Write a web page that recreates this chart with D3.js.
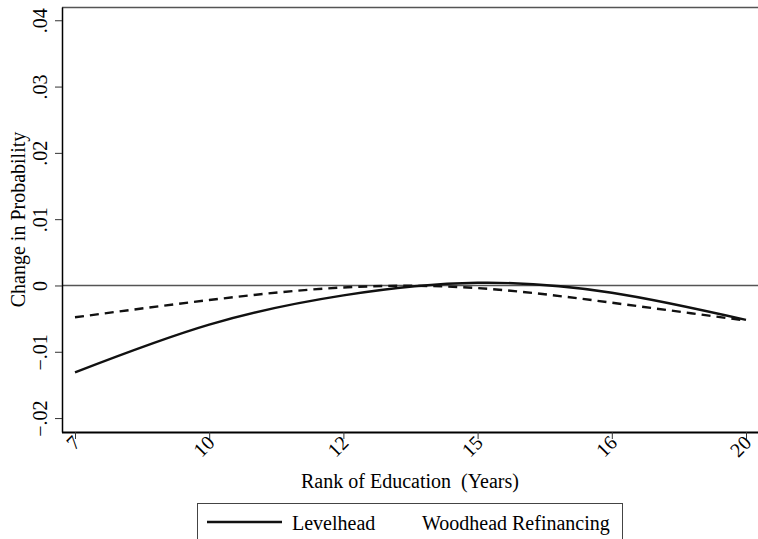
<!DOCTYPE html>
<html>
<head>
<meta charset="utf-8">
<script src="https://cdn.jsdelivr.net/npm/d3@7"></script>
<style>
  body { margin: 0; background: #fff; }
  svg text { font-family: "Liberation Serif", "Times New Roman", serif; white-space: pre; }
</style>
</head>
<body>
<div id="chart"></div>
<script>
// education ranks shown on the x axis
const years = ["7", "10", "12", "15", "16", "20"];
// change in probability
const levelhead = [-0.0131, -0.0059, -0.0015, 0.0004, -0.0011, -0.0052];
const woodhead = [-0.0048, -0.0022, -0.0003, -0.0004, -0.0026, -0.0053];
const yTicks = [-0.02, -0.01, 0, 0.01, 0.02, 0.03, 0.04];

const W = 758, H = 539;
const plotL = 62, plotT = 7, plotB = 432, plotR = 758;
const serif = '"Liberation Serif", "Times New Roman", serif';

const svg = d3.select("#chart").append("svg")
    .attr("width", W)
    .attr("height", H);

const x = d3.scalePoint()
    .domain(years)
    .range([75, 746]);

const y = d3.scaleLinear()
    .domain([-0.0221, 0.042])
    .range([plotB, plotT]);

const fmt = d => d === 0 ? "0" : d3.format(".2f")(d).replace("0.", ".");

// top border and zero line
svg.append("line")
    .attr("x1", plotL).attr("x2", plotR)
    .attr("y1", plotT + 0.5).attr("y2", plotT + 0.5)
    .attr("stroke", "#555").attr("stroke-width", 1.5);
svg.append("line")
    .attr("x1", plotL).attr("x2", plotR)
    .attr("y1", y(0)).attr("y2", y(0))
    .attr("stroke", "#555").attr("stroke-width", 1.5);

// y axis
const ya = svg.append("g")
    .attr("transform", `translate(${plotL},0)`)
    .call(d3.axisLeft(y).tickValues(yTicks).tickFormat(fmt).tickSize(7).tickSizeOuter(0))
    .attr("font-family", serif);
ya.select(".domain").attr("stroke", "#000").attr("stroke-width", 1.5);
ya.selectAll(".tick line").attr("stroke", "#333");
ya.selectAll(".tick text")
    .attr("font-size", 20)
    .attr("fill", "#000")
    .attr("text-anchor", "middle")
    .attr("transform", "translate(-22,0) rotate(-90)")
    .attr("x", 0)
    .attr("dy", "0.35em");

// x axis
const xa = svg.append("g")
    .attr("transform", `translate(0,${plotB})`)
    .call(d3.axisBottom(x).tickSize(7).tickSizeOuter(0))
    .attr("font-family", serif);
xa.select(".domain")
    .attr("d", `M${plotL},0.5H${plotR}`)
    .attr("stroke", "#000").attr("stroke-width", 2);
xa.selectAll(".tick line").attr("stroke", "#333");
xa.selectAll(".tick text")
    .attr("font-size", 20)
    .attr("fill", "#000")
    .attr("text-anchor", "end")
    .attr("y", 0)
    .attr("dy", 0)
    .attr("transform", "translate(6,12) rotate(-45)");

// axis titles
svg.append("text")
    .attr("transform", `translate(18,${(plotT + plotB) / 2}) rotate(-90)`)
    .attr("text-anchor", "middle")
    .attr("dy", "0.35em")
    .attr("font-size", 20)
    .text("Change in Probability");
svg.append("text")
    .attr("x", 410).attr("y", 488)
    .attr("text-anchor", "middle")
    .attr("font-size", 20)
    .text("Rank of Education  (Years)");

// the two curves
const line = d3.line()
    .x((d, i) => x(years[i]))
    .y(d => y(d))
    .curve(d3.curveNatural);

svg.append("path")
    .datum(woodhead)
    .attr("fill", "none")
    .attr("stroke", "#111")
    .attr("stroke-width", 2.4)
    .attr("stroke-dasharray", "9,6")
    .attr("d", line);

svg.append("path")
    .datum(levelhead)
    .attr("fill", "none")
    .attr("stroke", "#111")
    .attr("stroke-width", 2.4)
    .attr("d", line);

// legend
const lg = svg.append("g");
lg.append("rect")
    .attr("x", 197.5).attr("y", 503.5)
    .attr("width", 425).attr("height", 60)
    .attr("fill", "#fff")
    .attr("stroke", "#444");
lg.append("line")
    .attr("x1", 207).attr("x2", 282)
    .attr("y1", 522).attr("y2", 522)
    .attr("stroke", "#111").attr("stroke-width", 2.4);
lg.append("text")
    .attr("x", 292).attr("y", 530)
    .attr("font-size", 20)
    .text("Levelhead");
lg.append("text")
    .attr("x", 422).attr("y", 530)
    .attr("font-size", 20)
    .text("Woodhead Refinancing");
</script>
</body>
</html>
